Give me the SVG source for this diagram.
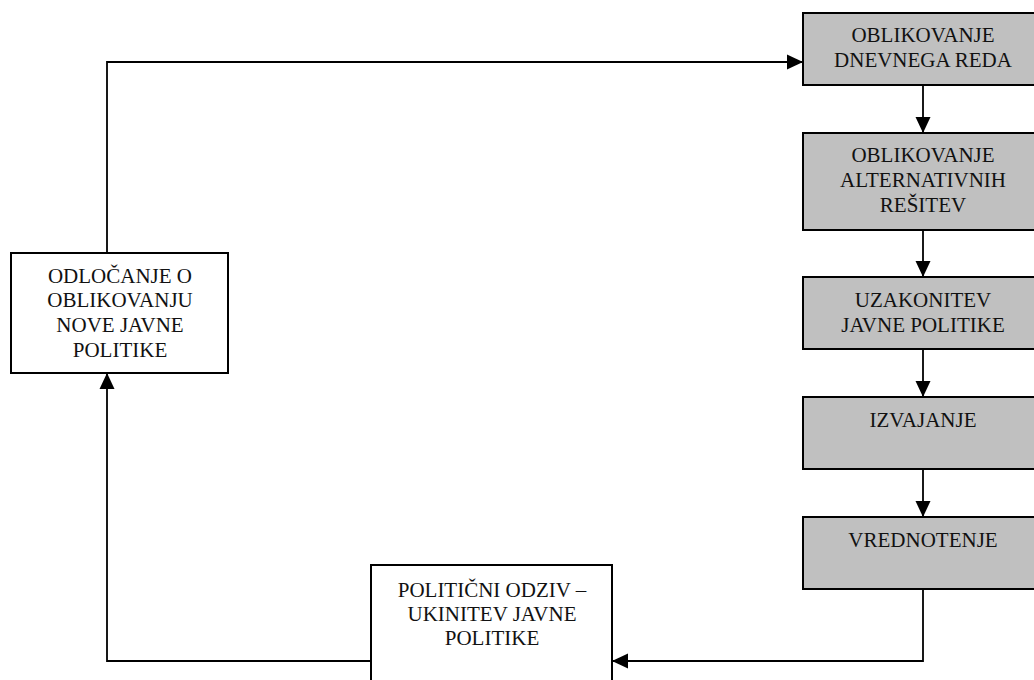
<svg xmlns="http://www.w3.org/2000/svg" width="1034" height="680" viewBox="0 0 1034 680">
<style>
.box{stroke:#000;stroke-width:2}
.g{fill:#c0c0c0}
.w{fill:#fff}
text{font-family:"Liberation Serif","Times New Roman",serif;font-size:21px;fill:#111;text-anchor:middle}
.c{fill:none;stroke:#000;stroke-width:1.8}
</style>
<defs>
<marker id="ah" markerUnits="userSpaceOnUse" markerWidth="16" markerHeight="16" viewBox="0 0 16 16" refX="16" refY="8" orient="auto">
<path d="M0,0.5 L16,8 L0,15.5 Z" fill="#000"/>
</marker>
</defs>
<rect width="1034" height="680" fill="#fff"/>
<g id="connectors">
<path class="c" d="M107,253 V62 H803" marker-end="url(#ah)"/>
<path class="c" d="M923,85 V133" marker-end="url(#ah)"/>
<path class="c" d="M923,230 V277" marker-end="url(#ah)"/>
<path class="c" d="M923,349 V397" marker-end="url(#ah)"/>
<path class="c" d="M923,469 V517" marker-end="url(#ah)"/>
<path class="c" d="M923,589 V661 H612" marker-end="url(#ah)"/>
<path class="c" d="M371,661 H107 V373" marker-end="url(#ah)"/>
</g>
<g id="n1">
<rect class="box g" x="803" y="13" width="240" height="72"/>
<text x="923" y="42">OBLIKOVANJE</text>
<text x="923" y="67">DNEVNEGA REDA</text>
</g>
<g id="n2">
<rect class="box g" x="803" y="133" width="240" height="97"/>
<text x="923" y="162">OBLIKOVANJE</text>
<text x="923" y="187">ALTERNATIVNIH</text>
<text x="923" y="212">REŠITEV</text>
</g>
<g id="n3">
<rect class="box g" x="803" y="277" width="240" height="72"/>
<text x="923" y="307">UZAKONITEV</text>
<text x="923" y="332">JAVNE POLITIKE</text>
</g>
<g id="n4">
<rect class="box g" x="803" y="397" width="240" height="72"/>
<text x="923" y="427">IZVAJANJE</text>
</g>
<g id="n5">
<rect class="box g" x="803" y="517" width="240" height="72"/>
<text x="923" y="547">VREDNOTENJE</text>
</g>
<g id="n6">
<rect class="box w" x="11" y="253" width="217" height="120"/>
<text x="120" y="283">ODLOČANJE O</text>
<text x="120" y="307">OBLIKOVANJU</text>
<text x="120" y="332">NOVE JAVNE</text>
<text x="120" y="357">POLITIKE</text>
</g>
<g id="n7">
<rect class="box w" x="371" y="565" width="241" height="130"/>
<text x="492" y="597">POLITIČNI ODZIV –</text>
<text x="492" y="621">UKINITEV JAVNE</text>
<text x="492" y="645">POLITIKE</text>
</g>
</svg>
